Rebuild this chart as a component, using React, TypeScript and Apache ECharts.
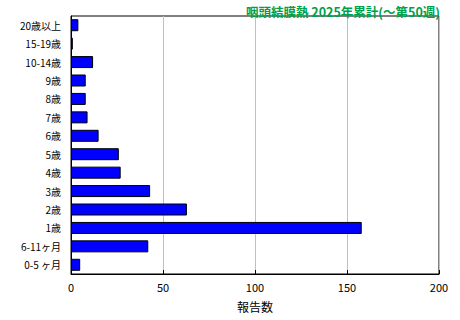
import React, { useEffect, useRef } from "react";
import * as echarts from "echarts";

const categories = ["20歳以上", "15-19歳", "10-14歳", "9歳", "8歳", "7歳", "6歳", "5歳", "4歳", "3歳", "2歳", "1歳", "6-11ヶ月", "0-5 ヶ月"];
const values = [4, 1, 12, 8, 8, 9, 15, 26, 27, 43, 63, 158, 42, 5];
const xTicks = [0, 50, 100, 150, 200];
const title = "咽頭結膜熱 2025年累計(〜第50週)";
const xName = "報告数";

export default function App() {
  const ref = useRef<HTMLDivElement>(null);
  useEffect(() => {
    const chart = echarts.init(ref.current!, null, { renderer: "svg" });
    const font = "'Noto Sans CJK JP', sans-serif";
    chart.setOption({
      animation: false,
      textStyle: { fontFamily: font },
      title: {
        text: title,
        right: 15,
        top: 0,
        textStyle: { color: "#00a04a", fontSize: 12.5, fontWeight: "bold", fontFamily: font },
      },
      grid: { left: 71, top: 16, width: 368, height: 258, show: true, borderColor: "#000", borderWidth: 1, backgroundColor: "#fff" },
      xAxis: {
        type: "value",
        min: xTicks[0],
        max: xTicks[xTicks.length - 1],
        interval: 50,
        name: xName,
        nameLocation: "middle",
        nameGap: 26,
        nameTextStyle: { fontSize: 12, color: "#000", fontFamily: font },
        axisLine: { show: true, lineStyle: { color: "#000" } },
        axisTick: { show: true, inside: true, length: 4, lineStyle: { color: "#000" } },
        axisLabel: { fontSize: 11, color: "#000", margin: 7, fontFamily: font },
        splitLine: { show: true, lineStyle: { color: "#c0c0c0", width: 1 } },
      },
      yAxis: {
        type: "category",
        data: categories,
        inverse: true,
        axisLine: { show: true, lineStyle: { color: "#000" } },
        axisTick: { show: false },
        axisLabel: { fontSize: 10, color: "#000", margin: 10, fontFamily: font },
      },
      series: [
        {
          type: "bar",
          data: values,
          barWidth: 12,
          itemStyle: { color: "#0000ff", borderColor: "#000", borderWidth: 1 },
        },
      ],
    });
    return () => chart.dispose();
  }, []);
  return <div ref={ref} style={{ width: 460, height: 320, position: "absolute", left: 0, top: 0 }} />;
}
